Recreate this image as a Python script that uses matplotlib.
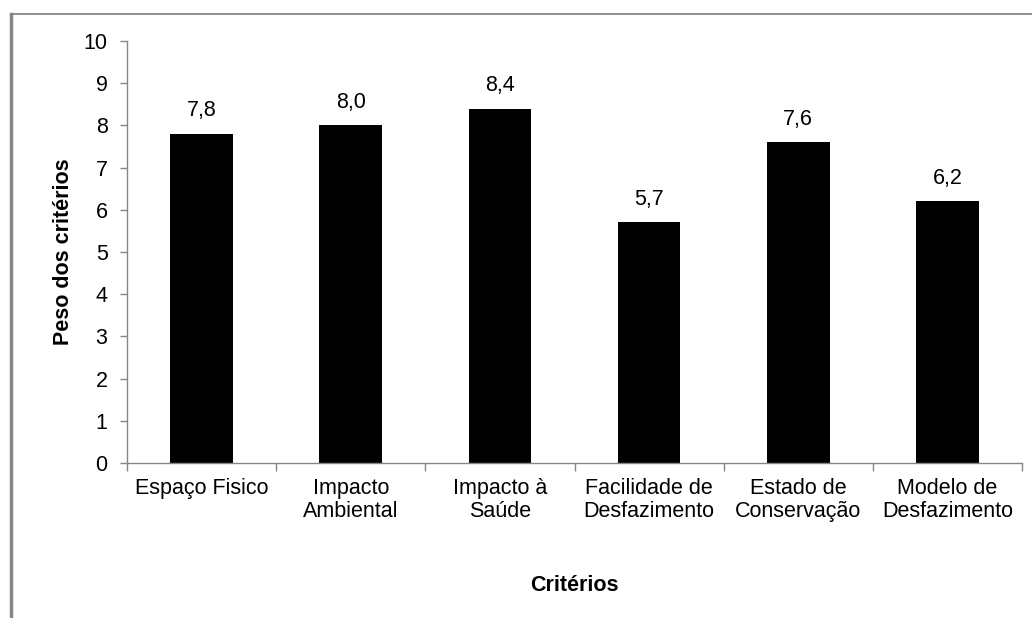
import matplotlib
matplotlib.use("Agg")
import matplotlib.pyplot as plt
from matplotlib.lines import Line2D

plt.rcParams['font.family'] = ['Liberation Sans', 'DejaVu Sans']

categories = ["Espaço Fisico", "Impacto\nAmbiental", "Impacto à\nSaúde",
              "Facilidade de\nDesfazimento", "Estado de\nConservação",
              "Modelo de\nDesfazimento"]
values = [7.8, 8.0, 8.4, 5.7, 7.6, 6.2]
value_labels = ["7,8", "8,0", "8,4", "5,7", "7,6", "6,2"]
y_ticks = list(range(0, 11))

W, H = 1032, 618
FS = 15.5
fig = plt.figure(figsize=(W / 100, H / 100), dpi=100)
ax = fig.add_axes([127 / W, 1 - 463 / H, (1022 - 127) / W, (463 - 41) / H])

gray = "#868686"
x = list(range(len(categories)))
ax.bar(x, values, width=0.42, color="black", zorder=2)

for xi, v, lab in zip(x, values, value_labels):
    ax.annotate(lab, (xi, v), xytext=(0, 9), textcoords="offset points",
                ha="center", va="bottom", fontsize=FS)

ax.set_xlim(-0.5, len(categories) - 0.5)
ax.set_ylim(0, 10)
ax.set_yticks(y_ticks)
ax.set_yticklabels([str(t) for t in y_ticks], fontsize=FS)

# category ticks sit on the boundaries between bars
ax.set_xticks([i - 0.5 for i in range(len(categories) + 1)])
ax.set_xticklabels([])
ax.set_xticks(x, minor=True)
ax.set_xticklabels(categories, minor=True, fontsize=FS, linespacing=1.1)
ax.tick_params(axis="x", which="minor", length=0, pad=11)
ax.tick_params(axis="x", which="major", length=6, color=gray, width=1)
ax.tick_params(axis="y", length=5, color=gray, width=1, pad=9)

for side in ("top", "right"):
    ax.spines[side].set_visible(False)
for side in ("left", "bottom"):
    ax.spines[side].set_color(gray)
    ax.spines[side].set_linewidth(1)
    ax.spines[side].set_zorder(3)

ax.set_ylabel("Peso dos critérios", fontsize=FS, fontweight="bold", labelpad=7)
ax.set_xlabel("Critérios", fontsize=FS, fontweight="bold", labelpad=38)

# outer chart frame
fig.add_artist(Line2D([10.5 / W, 1.0], [1 - 14 / H, 1 - 14 / H],
                      transform=fig.transFigure, color=gray, linewidth=1.3))
fig.add_artist(Line2D([10.5 / W, 10.5 / W], [0, 1 - 14 / H],
                      transform=fig.transFigure, color=gray, linewidth=2.5))

fig.savefig("out.png", dpi=100)
